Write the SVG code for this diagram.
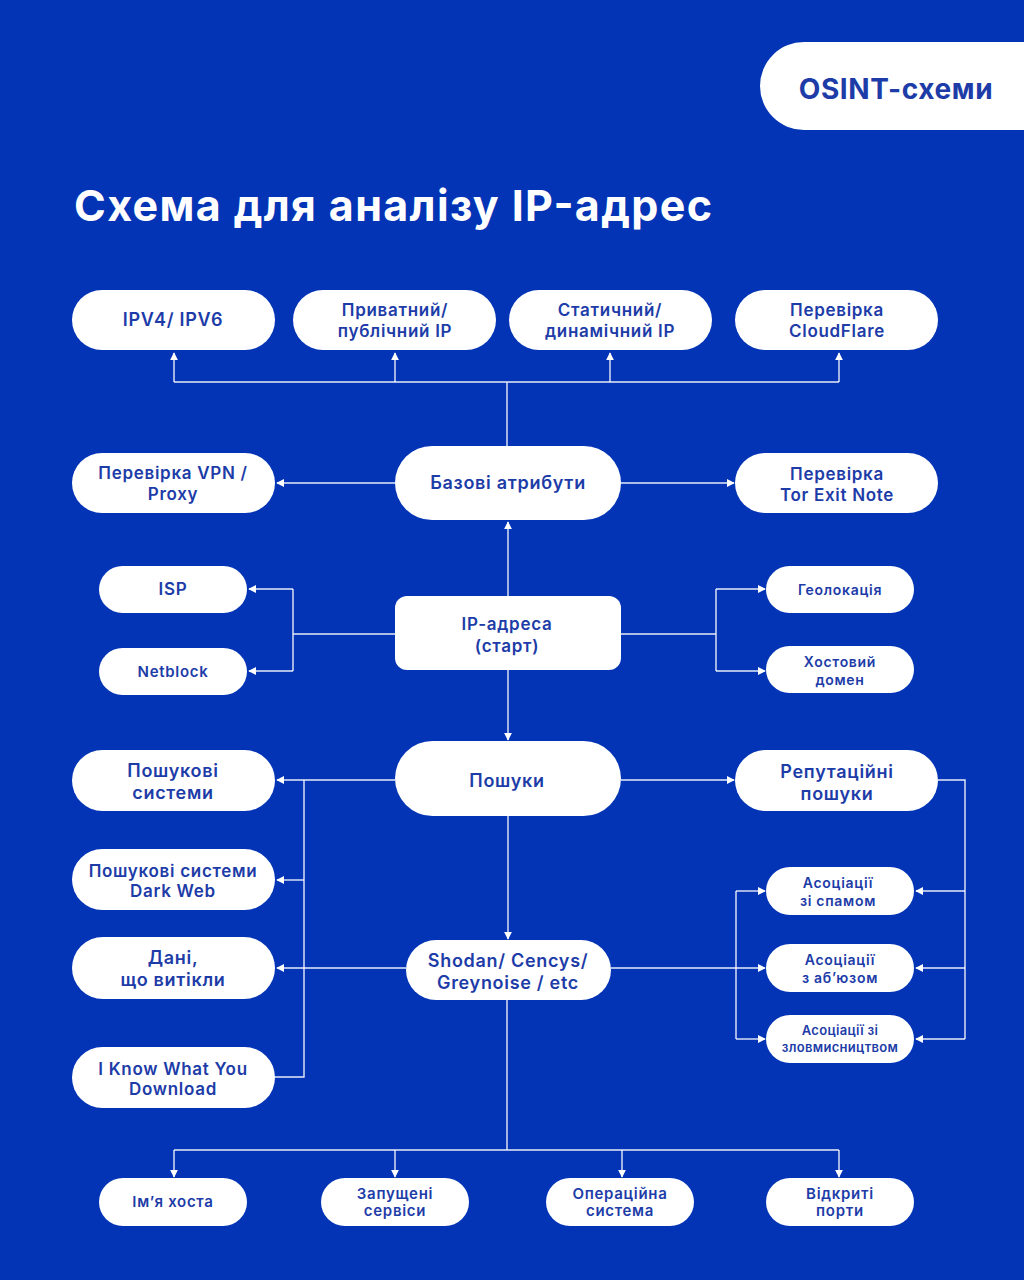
<svg xmlns="http://www.w3.org/2000/svg" width="1024" height="1280" viewBox="0 0 1024 1280">
<defs>
<marker id="ah" viewBox="0 0 10 10" refX="9" refY="5" markerWidth="8" markerHeight="8" markerUnits="userSpaceOnUse" orient="auto">
<path d="M0,0 L10,5 L0,10 z" fill="#ffffff"/>
</marker>
<style>
.bg{fill:#0334b6}
.nd{fill:#ffffff}
.t{font-family:Inter,"Noto Sans","DejaVu Sans",sans-serif;font-weight:600;fill:#1d3ca8;text-anchor:middle;letter-spacing:0.7px}
.t18{font-size:18px}
.t17{font-size:17px}
.t15{font-size:15px}
.t14{font-size:14px}
.t13{font-size:13px}
.ln{fill:none;stroke:#ffffff;stroke-width:1.4;stroke-opacity:0.9}
.ar{marker-end:url(#ah)}
.title{font-family:Inter,"Noto Sans","DejaVu Sans",sans-serif;font-weight:700;font-size:43px;fill:#ffffff}
</style>
</defs>
<rect class="bg" x="0" y="0" width="1024" height="1280"/>
<g id="badge">
<rect class="nd" x="760" y="42" width="320" height="88" rx="44"/>
<text class="t" x="896" y="99" style="font-size:28px;font-weight:700;letter-spacing:0.6px">OSINT-схеми</text>
</g>
<text class="title" x="74" y="221" textLength="638" lengthAdjust="spacing">Схема для аналізу IP-адрес</text>

<g id="connectors">
<path class="ln" d="M507,446 V382 M174,382 H839"/>
<path class="ln ar" d="M174,382 V353"/>
<path class="ln ar" d="M395,382 V353"/>
<path class="ln ar" d="M610,382 V353"/>
<path class="ln ar" d="M839,382 V353"/>
<path class="ln ar" d="M395,483 H277"/>
<path class="ln ar" d="M621,483 H734"/>
<path class="ln ar" d="M508,596 V522"/>
<path class="ln" d="M395,634 H293 M293,589 V671"/>
<path class="ln ar" d="M293,589 H249"/>
<path class="ln ar" d="M293,671 H249"/>
<path class="ln" d="M621,634 H716 M716,589 V671"/>
<path class="ln ar" d="M716,589 H765"/>
<path class="ln ar" d="M716,671 H765"/>
<path class="ln ar" d="M508,670 V740"/>
<path class="ln ar" d="M395,780 H277"/>
<path class="ln" d="M304,780 V1077 H275"/>
<path class="ln ar" d="M304,880 H277"/>
<path class="ln ar" d="M406,968 H277"/>
<path class="ln ar" d="M621,780 H734"/>
<path class="ln" d="M938,780 H965 V1039"/>
<path class="ln ar" d="M965,891 H916"/>
<path class="ln ar" d="M965,968 H916"/>
<path class="ln ar" d="M965,1039 H916"/>
<path class="ln ar" d="M611,968 H765"/>
<path class="ln" d="M736,891 V1039"/>
<path class="ln ar" d="M736,891 H765"/>
<path class="ln ar" d="M736,1039 H765"/>
<path class="ln ar" d="M508,816 V939"/>
<path class="ln" d="M507,1000 V1150 M174,1150 H839"/>
<path class="ln ar" d="M174,1150 V1177"/>
<path class="ln ar" d="M395,1150 V1177"/>
<path class="ln ar" d="M622,1150 V1177"/>
<path class="ln ar" d="M839,1150 V1177"/>
</g>

<g id="n_ipv"><rect class="nd" x="72" y="290" width="203" height="60" rx="30"/><text class="t t18" x="173" y="326">IPV4/ IPV6</text></g>
<g id="n_priv"><rect class="nd" x="293" y="290" width="203" height="60" rx="30"/><text class="t t17" x="395" y="316">Приватний/</text><text class="t t17" x="395" y="337">публічний IP</text></g>
<g id="n_stat"><rect class="nd" x="509" y="290" width="203" height="60" rx="30"/><text class="t t17" x="610" y="316">Статичний/</text><text class="t t17" x="610" y="337">динамічний IP</text></g>
<g id="n_cf"><rect class="nd" x="735" y="290" width="203" height="60" rx="30"/><text class="t t17" x="837" y="316">Перевірка</text><text class="t t17" x="837" y="337">CloudFlare</text></g>

<g id="n_vpn"><rect class="nd" x="72" y="453" width="203" height="60" rx="30"/><text class="t t17" x="173" y="479">Перевірка VPN /</text><text class="t t17" x="173" y="500">Proxy</text></g>
<g id="n_base"><rect class="nd" x="395" y="446" width="226" height="74" rx="37"/><text class="t t18" x="508" y="489">Базові атрибути</text></g>
<g id="n_tor"><rect class="nd" x="735" y="453" width="203" height="60" rx="30"/><text class="t t17" x="837" y="480">Перевірка</text><text class="t t17" x="837" y="501">Tor Exit Note</text></g>

<g id="n_isp"><rect class="nd" x="99" y="566" width="148" height="47" rx="23.5"/><text class="t t17" x="173" y="595">ISP</text></g>
<g id="n_net"><rect class="nd" x="99" y="648" width="148" height="47" rx="23.5"/><text class="t t15" x="173" y="677">Netblock</text></g>
<g id="n_ip"><rect class="nd" x="395" y="596" width="226" height="74" rx="12"/><text class="t t17" x="507" y="630">IP-адреса</text><text class="t t17" x="507" y="652">(старт)</text></g>
<g id="n_geo"><rect class="nd" x="766" y="566" width="148" height="47" rx="23.5"/><text class="t t14" x="840" y="595">Геолокація</text></g>
<g id="n_host"><rect class="nd" x="766" y="646" width="148" height="47" rx="23.5"/><text class="t t14" x="840" y="667">Хостовий</text><text class="t t14" x="840" y="685">домен</text></g>

<g id="n_search"><rect class="nd" x="395" y="741" width="226" height="75" rx="37.5"/><text class="t t18" x="507" y="787">Пошуки</text></g>
<g id="n_se"><rect class="nd" x="72" y="750" width="203" height="61" rx="30.5"/><text class="t t18" x="173" y="777">Пошукові</text><text class="t t18" x="173" y="799">системи</text></g>
<g id="n_dw"><rect class="nd" x="72" y="849" width="203" height="61" rx="30.5"/><text class="t t17" x="173" y="877">Пошукові системи</text><text class="t t17" x="173" y="897">Dark Web</text></g>
<g id="n_leak"><rect class="nd" x="72" y="937" width="203" height="62" rx="31"/><text class="t t18" x="173" y="964">Дані,</text><text class="t t18" x="173" y="986">що витікли</text></g>
<g id="n_ikwyd"><rect class="nd" x="72" y="1047" width="203" height="61" rx="30.5"/><text class="t t17" x="173" y="1075">I Know What You</text><text class="t t17" x="173" y="1095">Download</text></g>
<g id="n_shodan"><rect class="nd" x="406" y="940" width="205" height="60" rx="30"/><text class="t t18" x="508" y="967">Shodan/ Cencys/</text><text class="t t18" x="508" y="989">Greynoise / etc</text></g>
<g id="n_rep"><rect class="nd" x="735" y="750" width="203" height="61" rx="30.5"/><text class="t t18" x="837" y="778">Репутаційні</text><text class="t t18" x="837" y="800">пошуки</text></g>
<g id="n_spam"><rect class="nd" x="766" y="867" width="148" height="48" rx="24"/><text class="t t14" x="838" y="888">Асоціації</text><text class="t t14" x="838" y="906">зі спамом</text></g>
<g id="n_abuse"><rect class="nd" x="766" y="944" width="148" height="48" rx="24"/><text class="t t14" x="840" y="965">Асоціації</text><text class="t t14" x="840" y="983">з аб’юзом</text></g>
<g id="n_mal"><rect class="nd" x="766" y="1015" width="148" height="48" rx="24"/><text class="t t13" x="840" y="1035" style="letter-spacing:0.3px">Асоціації зі</text><text class="t t13" x="840" y="1052" style="letter-spacing:0.3px">зловмисництвом</text></g>

<g id="n_hostname"><rect class="nd" x="99" y="1178" width="148" height="48" rx="24"/><text class="t t15" x="173" y="1207">Ім’я хоста</text></g>
<g id="n_svc"><rect class="nd" x="321" y="1178" width="148" height="48" rx="24"/><text class="t t15" x="395" y="1199">Запущені</text><text class="t t15" x="395" y="1216">сервіси</text></g>
<g id="n_os"><rect class="nd" x="546" y="1178" width="148" height="48" rx="24"/><text class="t t15" x="620" y="1199">Операційна</text><text class="t t15" x="620" y="1216">система</text></g>
<g id="n_ports"><rect class="nd" x="766" y="1178" width="148" height="48" rx="24"/><text class="t t15" x="840" y="1199">Відкриті</text><text class="t t15" x="840" y="1216">порти</text></g>
</svg>
